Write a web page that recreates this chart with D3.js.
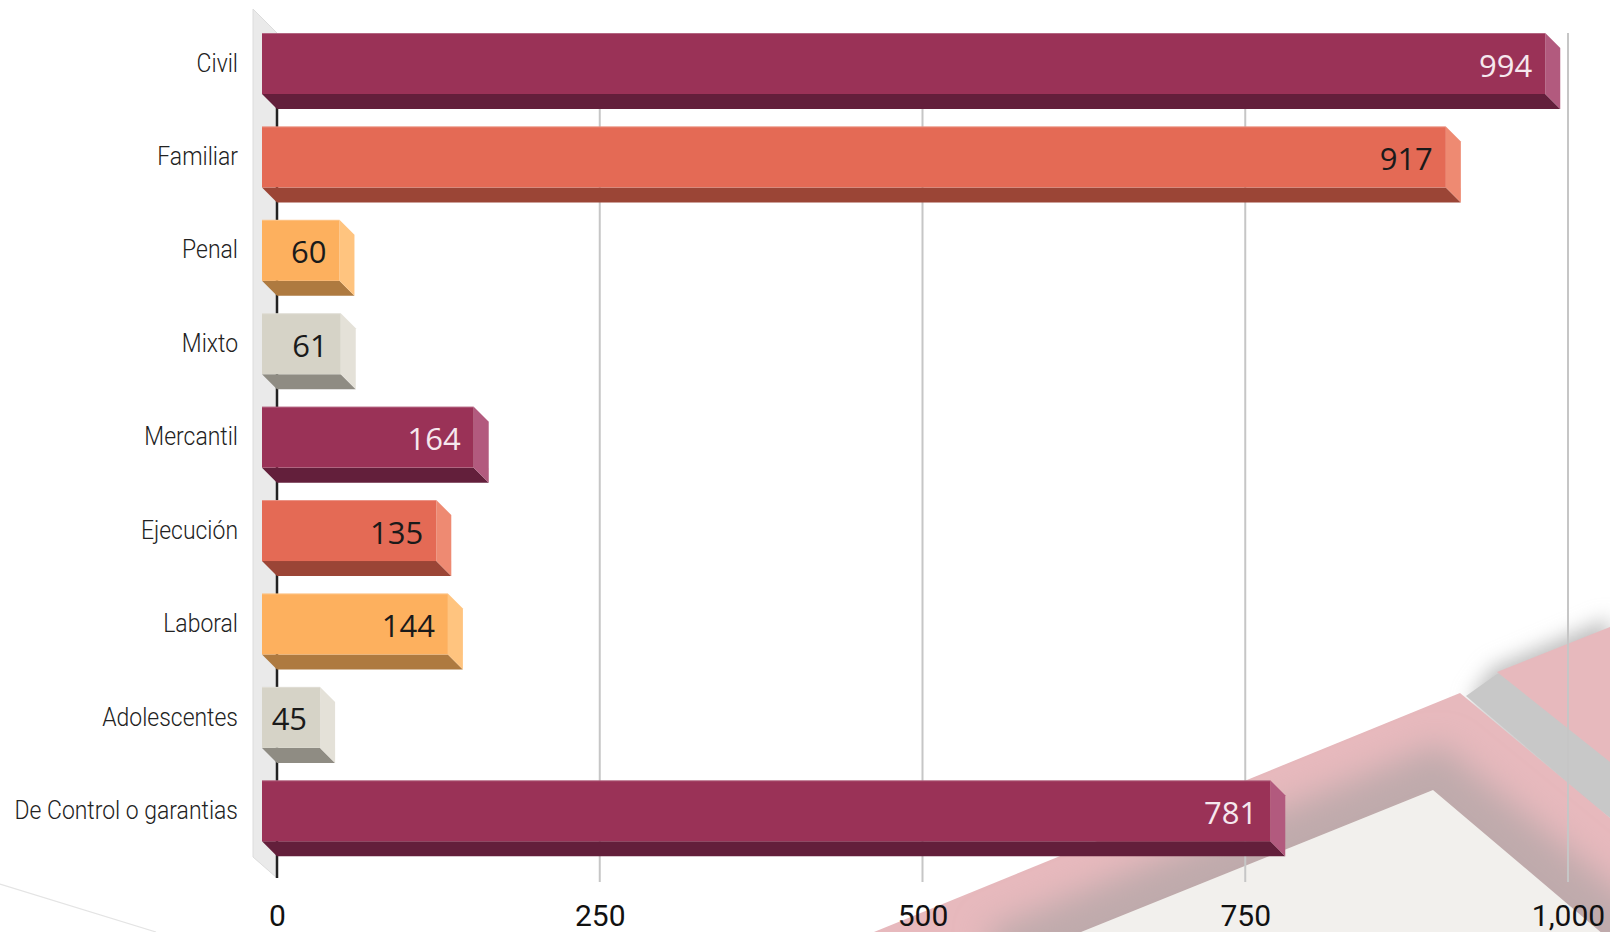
<!DOCTYPE html>
<html>
<head>
<meta charset="utf-8">
<script src="https://cdn.jsdelivr.net/npm/d3@7"></script>
<style>
  html, body { margin: 0; padding: 0; background: #ffffff; }
  svg { display: block; }
</style>
</head>
<body>
<svg id="chart" width="1610" height="932"></svg>
<script>
// ---- data ----
const categories = ["Civil", "Familiar", "Penal", "Mixto", "Mercantil", "Ejecución", "Laboral", "Adolescentes", "De Control o garantias"];
const values = [994, 917, 60, 61, 164, 135, 144, 45, 781];
const tickValues = [0, 250, 500, 750, 1000];
const palette = [
  { front: "#9a3257", bottom: "#631f3b", side: "#b25a7e", text: "#f6e8ee" },
  { front: "#e46a55", bottom: "#9b4536", side: "#ee8a72", text: "#1a1a1a" },
  { front: "#fdb05e", bottom: "#ae7a40", side: "#ffc47f", text: "#1a1a1a" },
  { front: "#d6d3c7", bottom: "#8f8c83", side: "#e4e1d8", text: "#1a1a1a" }
];

const svg = d3.select("#chart");
const D = 15; // 3D depth offset

const x = d3.scaleLinear().domain([0, 1000]).range([277, 1568]);
const y = d3.scaleBand().domain(categories).range([16.8, 857.5]).paddingInner(0.347).paddingOuter(0.1735);
const bw = y.bandwidth();

const defs = svg.append("defs");
defs.append("filter").attr("id", "blur1").attr("x", "-50%").attr("y", "-50%").attr("width", "200%").attr("height", "200%")
  .append("feGaussianBlur").attr("stdDeviation", 10);
defs.append("filter").attr("id", "blur2").attr("x", "-50%").attr("y", "-50%").attr("width", "200%").attr("height", "200%")
  .append("feGaussianBlur").attr("stdDeviation", 16);

// ---- decorative background ----
const deco = svg.append("g");
const poly = pts => pts.map(p => p.join(",")).join(" ");
deco.append("line").attr("x1", 0).attr("y1", 884).attr("x2", 156).attr("y2", 932)
  .attr("stroke", "#e4e4e4").attr("stroke-width", 1.2);
// shadow around upper right shape
deco.append("polygon").attr("points", poly([[1492, 668], [1610, 618], [1610, 835], [1470, 700]]))
  .attr("fill", "#bdbdbd").attr("filter", "url(#blur1)");
deco.append("polygon").attr("points", poly([[1497, 674], [1610, 628], [1610, 818], [1466, 696]]))
  .attr("fill", "#c8c8c8");
// band
const bandPts = [[874, 932], [1460, 693], [1610, 818], [1610, 932]];
defs.append("clipPath").attr("id", "bandClip").append("polygon").attr("points", poly(bandPts));
deco.append("polygon").attr("points", poly(bandPts)).attr("fill", "#e7b9bd");
deco.append("g").attr("clip-path", "url(#bandClip)")
  .append("polyline").attr("points", poly([[1000, 968], [1433, 790], [1650, 968]]))
  .attr("fill", "none").attr("stroke", "#bfaaac").attr("stroke-width", 80).attr("filter", "url(#blur2)");
deco.append("polygon").attr("points", poly([[1081, 932], [1433, 790], [1610, 940], [1610, 932]]))
  .attr("fill", "#f2f0ed");
// upper right pink shape
deco.append("polygon").attr("points", poly([[1497, 672], [1610, 627], [1610, 762]]))
  .attr("fill", "#e7b9bd");

// ---- gridlines ----
svg.append("g").selectAll("line").data(tickValues.filter(d => d > 0)).join("line")
  .attr("x1", d => x(d)).attr("x2", d => x(d))
  .attr("y1", 33).attr("y2", 882)
  .attr("stroke", "#c6c6c6").attr("stroke-width", 2);

// ---- left wall & axis ----
svg.append("polygon").attr("points", poly([[253, 9], [x(0), 33], [x(0), 878], [253, 857]]))
  .attr("fill", "#eaeaea").attr("stroke", "#dcdcdc").attr("stroke-width", 1);
svg.append("line").attr("x1", x(0)).attr("x2", x(0)).attr("y1", 33).attr("y2", 878)
  .attr("stroke", "#222").attr("stroke-width", 2.5);

// ---- bars ----
const data = categories.map((c, i) => ({ c, v: values[i], col: palette[i % 4] }));
const bars = svg.append("g").selectAll("g").data(data).join("g");
bars.append("polygon") // bottom face
  .attr("fill", d => d.col.bottom)
  .attr("points", d => {
    const y0 = y(d.c) + bw, x0 = x(0) - D, x1 = x(d.v) - D;
    return poly([[x0, y0], [x1, y0], [x1 + D, y0 + D], [x0 + D, y0 + D]]);
  });
bars.append("polygon") // side face
  .attr("fill", d => d.col.side)
  .attr("points", d => {
    const yt = y(d.c), x1 = x(d.v) - D;
    return poly([[x1, yt], [x1 + D, yt + D], [x1 + D, yt + bw + D], [x1, yt + bw]]);
  });
bars.append("rect") // front face
  .attr("x", x(0) - D).attr("y", d => y(d.c))
  .attr("width", d => x(d.v) - x(0)).attr("height", bw)
  .attr("fill", d => d.col.front);
bars.append("line") // subtle top edge
  .attr("x1", x(0) - D).attr("x2", d => x(d.v) - D)
  .attr("y1", d => y(d.c) + 0.5).attr("y2", d => y(d.c) + 0.5)
  .attr("stroke", "#ffffff").attr("stroke-opacity", 0.25).attr("stroke-width", 1);
bars.append("text")
  .attr("x", d => x(d.v) - D - 13)
  .attr("y", d => y(d.c) + bw / 2 + 1)
  .attr("text-anchor", "end").attr("dominant-baseline", "central")
  .attr("font-family", "'Open Sans', sans-serif").attr("font-size", 31)
  .attr("fill", d => d.col.text)
  .text(d => d3.format(",")(d.v));

// ---- category axis ----
const yAxis = svg.append("g").attr("transform", "translate(238,0) scale(0.9,1)")
  .call(d3.axisLeft(y).tickSize(0).tickPadding(0));
yAxis.select(".domain").remove();
yAxis.selectAll("text").attr("font-family", "Roboto, sans-serif").attr("font-weight", 300)
  .attr("font-size", 25.5).attr("fill", "#222");

// ---- value axis ----
const xAxis = svg.append("g").attr("transform", "translate(0,905)")
  .call(d3.axisBottom(x).tickValues(tickValues).tickFormat(d3.format(",")).tickSize(0).tickPadding(0));
xAxis.select(".domain").remove();
xAxis.selectAll("text").attr("font-family", "Roboto, sans-serif").attr("font-size", 30).attr("fill", "#111");
</script>
</body>
</html>
